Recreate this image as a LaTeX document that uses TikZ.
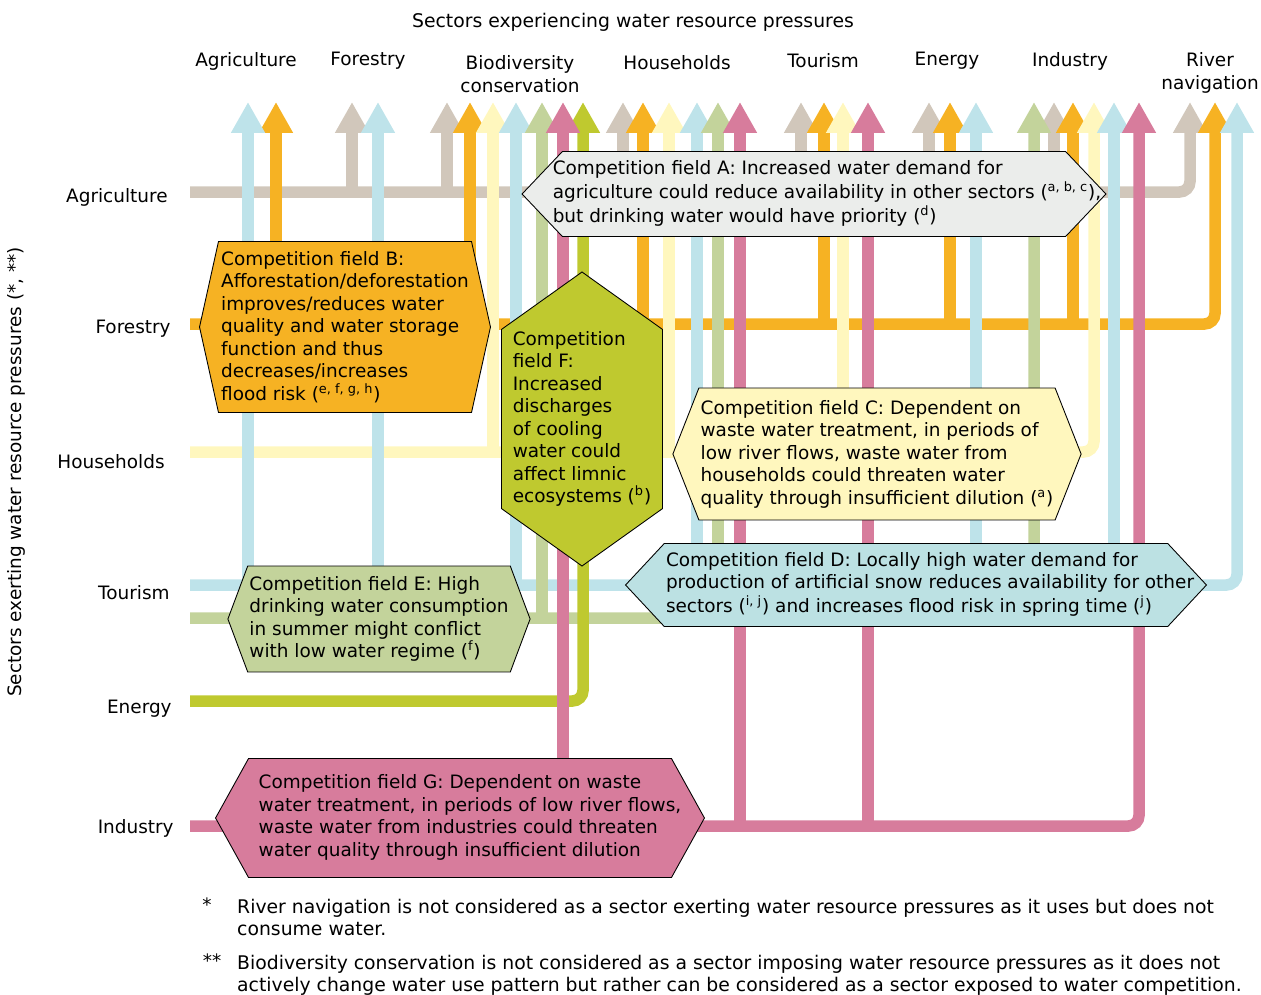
\documentclass[tikz,border=0pt]{standalone}
\usepackage{fontspec}
\setmainfont{DejaVu Sans}
\usetikzlibrary{arrows.meta, shapes.symbols}
\definecolor{agriC}{HTML}{D1C7BB}
\definecolor{forC}{HTML}{F6B223}
\definecolor{houC}{HTML}{FFF7BE}
\definecolor{touC}{HTML}{BEE3EA}
\definecolor{sageC}{HTML}{C3D39B}
\definecolor{eneC}{HTML}{BFC92F}
\definecolor{indC}{HTML}{D77C9C}
\definecolor{greyC}{HTML}{EBEDEB}
\definecolor{iceC}{HTML}{BCE1E3}
\newcommand{\offsetlines}[2]{\hspace*{#1}\begin{tabular}{@{}l@{}}#2\end{tabular}}

\begin{document}
\begin{tikzpicture}[
    x=0.02cm, y=-0.02cm,
    every node/.style={font=\fontsize{10.5}{12.8}\selectfont},
    sector/.style={anchor=east, inner sep=0pt},
    colhead/.style={align=center},
    note/.style={anchor=north west, align=left, font=\fontsize{10.7}{12.8}\selectfont},
    field/.style={shape=signal, signal to=west and east, draw, line width=0.5pt, align=left, inner sep=1pt},
    flow/.style={line width=0.23cm, rounded corners=6pt, -{Triangle[width=0.64cm, length=0.62cm]}},
    agri/.style={flow, draw=agriC},
    fore/.style={flow, draw=forC},
    hous/.style={flow, draw=houC},
    tour/.style={flow, draw=touC},
    sage/.style={flow, draw=sageC},
    ener/.style={flow, draw=eneC},
    indu/.style={flow, draw=indC}
]
    \useasboundingbox (0,0) rectangle (1261,994);

    \node[font=\fontsize{10.7}{12.8}\selectfont] (top) at (633,22) {Sectors experiencing water resource pressures};
    \node[rotate=90] (side) at (16,472) {Sectors exerting water resource pressures (*, **)};

    \node[colhead] (c-agr) at (246,61) {Agriculture};
    \node[colhead] (c-for) at (368,61) {Forestry};
    \node[colhead] (c-bio) at (520,74) {Biodiversity\\conservation};
    \node[colhead] (c-hou) at (677,63) {Households};
    \node[colhead] (c-tou) at (823,61) {Tourism};
    \node[colhead] (c-ene) at (947,61) {Energy};
    \node[colhead] (c-ind) at (1070,61) {Industry};
    \node[colhead] (c-riv) at (1210,73) {River\\navigation};

    \node[sector] (agr) at (168,197) {Agriculture};
    \node[sector] (for) at (171,329) {Forestry};
    \node[sector] (hou) at (165,462) {Households};
    \node[sector] (tou) at (170,593) {Tourism};
    \node[sector] (ene) at (172,709) {Energy};
    \node[sector] (ind) at (174,828) {Industry};

    \coordinate (agr-in) at (190,192);
    \coordinate (for-in) at (190,324);
    \coordinate (hou-in) at (190,452);
    \coordinate (tou-in) at (190,585);
    \coordinate (sag-in) at (190,618);
    \coordinate (ene-in) at (190,701);
    \coordinate (ind-in) at (190,826);

    \draw[agri] (agr-in) -| (1190,102);
    \foreach \x in {352,447,623,801,929,1054} \draw[agri] (\x,192) -- (\x,102);
    \draw[fore] (for-in) -| (1215,102);
    \foreach \x in {276,470,643,824,950,1073} \draw[fore] (\x,324) -- (\x,102);
    \draw[hous] (hou-in) -| (1094,102);
    \foreach \x in {493,669,843} \draw[hous] (\x,452) -- (\x,102);
    \draw[tour] (tou-in) -| (1237,102);
    \foreach \x in {248,378,516,697,976,1114} \draw[tour] (\x,585) -- (\x,102);
    \draw[sage] (sag-in) -| (1034,102);
    \foreach \x in {542,718} \draw[sage] (\x,618) -- (\x,102);
    \draw[ener] (ene-in) -| (583,102);
    \draw[indu] (ind-in) -| (1139,102);
    \foreach \x in {563,740,868} \draw[indu] (\x,826) -- (\x,102);

    \node[field, fill=greyC, inner xsep=-0.8cm, minimum width=11.68cm, minimum height=1.70cm, signal pointer angle=93] (fieldA) at (814,194)
        {\offsetlines{0.52cm}{Competition field A: Increased water demand for\\agriculture could reduce availability in other sectors (\textsuperscript{a, b, c}),\\but drinking water would have priority (\textsuperscript{d})}};
    \node[field, fill=forC, minimum width=5.82cm, minimum height=3.42cm, signal pointer angle=155] (fieldB) at (345,327)
        {Competition field B:\\Afforestation/deforestation\\improves/reduces water\\quality and water storage\\function and thus\\decreases/increases\\flood risk (\textsuperscript{e, f, g, h})};
    \node[field, fill=houC, minimum width=8.02cm, minimum height=2.64cm, signal pointer angle=137] (fieldC) at (877,454)
        {Competition field C: Dependent on\\waste water treatment, in periods of\\low river flows, waste water from\\households could threaten water\\quality through insufficient dilution (\textsuperscript{a})};
    \node[field, fill=iceC, inner xsep=-0.6cm, minimum width=11.62cm, minimum height=1.66cm, signal pointer angle=94] (fieldD) at (916,585)
        {\offsetlines{0.56cm}{Competition field D: Locally high water demand for\\production of artificial snow reduces availability for other\\sectors (\textsuperscript{i, j}) and increases flood risk in spring time (\textsuperscript{j})}};
    \node[field, fill=sageC, minimum width=5.98cm, minimum height=2.12cm, signal pointer angle=139] (fieldE) at (379,619)
        {Competition field E: High\\drinking water consumption\\in summer might conflict\\with low water regime (\textsuperscript{f})};
    \node[field, signal to=north and south, fill=eneC, inner ysep=-0.35cm, minimum width=3.22cm, minimum height=5.61cm, signal pointer angle=109] (fieldF) at (582,419)
        {Competition\\field F:\\Increased\\discharges\\of cooling\\water could\\affect limnic\\ecosystems (\textsuperscript{b})};
    \node[field, fill=indC, inner xsep=-0.3cm, minimum width=9.78cm, minimum height=2.38cm, signal pointer angle=122] (fieldG) at (460,818)
        {\offsetlines{0.4cm}{Competition field G: Dependent on waste\\water treatment, in periods of low river flows,\\waste water from industries could threaten\\water quality through insufficient dilution}};

    \node (star1) at (207,905) {*};
    \node[note] (note1) at (231,893) {River navigation is not considered as a sector exerting water resource pressures as it uses but does not\\consume water.};
    \node (star2) at (212,961) {**};
    \node[note] (note2) at (231,949) {Biodiversity conservation is not considered as a sector imposing water resource pressures as it does not\\actively change water use pattern but rather can be considered as a sector exposed to water competition.};
\end{tikzpicture}
\end{document}
